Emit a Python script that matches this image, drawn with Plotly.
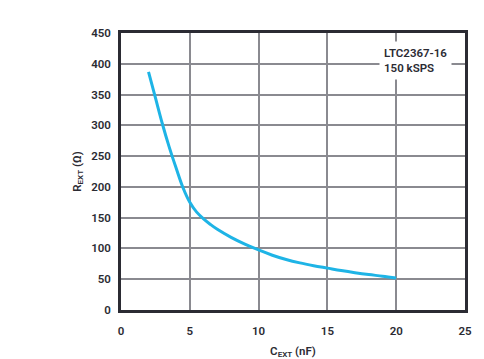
import plotly.graph_objects as go

c_ext = [2, 2.5, 3, 3.5, 4, 4.5, 5, 5.5, 6, 6.5, 7, 8, 9, 10, 11, 12, 13, 14, 15, 16, 17, 18, 19, 20]
r_ext = [387, 345, 303, 265, 231, 199, 175, 159, 148, 139, 131, 118, 107, 97.5, 89, 82, 76.5, 72, 68, 64, 60.5, 57.5, 55, 52]

x_ticks = [0, 5, 10, 15, 20, 25]
y_ticks = [0, 50, 100, 150, 200, 250, 300, 350, 400, 450]

FONT = "Roboto"
DARK = "#2b2b33"
GRID = "#8a8a90"
TXT = dict(family=FONT, size=11.5, color=DARK, weight=600)

fig = go.Figure()
fig.add_trace(go.Scatter(
    x=c_ext, y=r_ext, mode="lines",
    line=dict(color="#1eb4e6", width=3, shape="spline", smoothing=1.0),
    showlegend=False, hoverinfo="skip",
))

fig.add_annotation(
    x=21.4, y=406, xref="x", yref="y",
    text="LTC2367-16<br>150 kSPS", showarrow=False, align="left",
    font=TXT, bgcolor="white", borderpad=4,
)

# the page body adds an 8px offset; the figure is sized to fill the rest
fig.update_layout(
    width=476, height=351,
    margin=dict(l=113, r=19, t=25, b=49),
    paper_bgcolor="white", plot_bgcolor="white",
    font=dict(family=FONT, size=11.5, color=DARK),
    xaxis=dict(
        range=[0, 25], tickvals=x_ticks, showgrid=True, gridcolor=GRID, gridwidth=1.5,
        showline=True, linecolor=DARK, linewidth=2.5, mirror=True, zeroline=False,
        ticks="", ticklabelstandoff=8, automargin=False, tickfont=TXT,
        title=dict(text="C<sub>EXT</sub> (nF)", standoff=14, font=TXT),
    ),
    yaxis=dict(
        range=[0, 450], tickvals=y_ticks, showgrid=True, gridcolor=GRID, gridwidth=1.5,
        showline=True, linecolor=DARK, linewidth=2.5, mirror=True, zeroline=False,
        ticks="", ticklabelstandoff=5, automargin=False, tickfont=TXT,
        title=dict(text="R<sub>EXT</sub> (Ω)", standoff=8, font=TXT),
    ),
)

fig.write_html("out.html")
